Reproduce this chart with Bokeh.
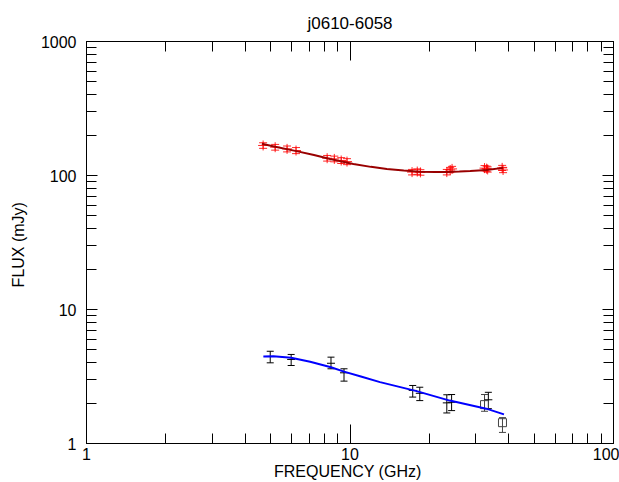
from bokeh.plotting import figure
from bokeh.models import ColumnDataSource, Whisker, TeeHead, LogAxis, FixedTicker, BasicTickFormatter, Range1d
from bokeh.embed import file_html
from bokeh.resources import INLINE

title = "j0610-6058"
x_label = "FREQUENCY  (GHz)"
y_label = "FLUX  (mJy)"
x_ticks = [1, 10, 100]
y_ticks = [1, 10, 100, 1000]

# bright source (red points, dark red fit)
red_freq = [4.68, 5.20, 5.77, 6.24, 8.19, 8.72, 9.26, 9.74, 17.2, 18.0, 18.5,
            23.3, 24.0, 24.4, 32.4, 33.0, 33.3, 37.8, 38.1]
red_flux = [167.5, 162.6, 158, 153.6, 134.6, 133, 129.4, 127, 106, 107, 105.5,
            106, 110, 112, 113.5, 112.5, 111, 114, 110]
red_err = [8, 8, 8, 8, 6.5, 6.5, 6.5, 6.5, 5, 5, 5, 5, 5, 5, 5, 5, 5, 5, 5]

red_fit_freq = [4.63, 5.2, 6.26, 7.3, 8.41, 10.3, 12.0, 13.8, 16.0, 18.4, 21.0,
                23.3, 26.0, 28.6, 33.0, 38.1]
red_fit_flux = [172.5, 164, 152, 142, 133, 122, 116, 112, 109, 106.6, 106,
                106, 107, 108, 110, 114]

# faint source (black points, blue fit)
blue_freq = [4.98, 5.98, 8.47, 9.49, 17.3, 18.4, 23.3, 24.3, 33.5]
blue_flux = [4.46, 4.24, 3.97, 3.37, 2.49, 2.37, 2.01, 2.03, 2.12]
blue_hi = [4.88, 4.62, 4.41, 3.61, 2.71, 2.63, 2.31, 2.32, 2.41]
blue_lo = [4.0, 3.82, 3.61, 2.92, 2.22, 2.09, 1.69, 1.76, 1.82]

sq_freq = [32.4, 37.9]
sq_flux = [1.95, 1.43]
sq_hi = [2.32, 1.56]
sq_lo = [1.74, 1.21]

blue_fit_freq = [4.69, 5.12, 5.98, 7.06, 8.47, 9.49, 11.0, 13.0, 17.9, 23.9, 32.9, 38.4]
blue_fit_flux = [4.46, 4.48, 4.36, 4.07, 3.71, 3.44, 3.16, 2.87, 2.46, 2.09, 1.82, 1.65]

FONT = "Liberation Sans"

p = figure(width=619, height=482, x_axis_type="log", y_axis_type="log",
           x_range=Range1d(1, 100), y_range=Range1d(1, 1000),
           output_backend="svg", toolbar_location=None, title=title,
           min_border_left=86, min_border_right=6, min_border_top=41, min_border_bottom=39)
p.background_fill_color = "white"
p.border_fill_color = "white"
p.outline_line_color = "black"
p.xgrid.visible = False
p.ygrid.visible = False

p.title.align = "center"
p.title.text_font = FONT
p.title.text_font_style = "normal"
p.title.text_font_size = "17px"
p.title.text_color = "black"
p.title.standoff = 18

x_minor = [m * 10 ** e for e in range(0, 2) for m in range(2, 10)]
y_minor = [m * 10 ** e for e in range(0, 3) for m in range(2, 10)]


def style_axis(ax, ticks, minor, major_in, minor_in, labels=True):
    ax.ticker = FixedTicker(ticks=ticks, minor_ticks=minor)
    ax.formatter = BasicTickFormatter()
    ax.axis_line_color = "black"
    ax.major_tick_line_color = "black"
    ax.minor_tick_line_color = "black"
    ax.major_tick_in = major_in
    ax.major_tick_out = 0
    ax.minor_tick_in = minor_in
    ax.minor_tick_out = 0
    ax.major_label_text_font = FONT
    ax.major_label_text_font_size = "16px"
    ax.major_label_text_color = "black"
    if labels:
        ax.axis_label_text_font = FONT
        ax.axis_label_text_font_size = "16px"
        ax.axis_label_text_font_style = "normal"
        ax.axis_label_text_color = "black"
    else:
        ax.major_label_overrides = {t: "" for t in ticks}
        ax.major_label_standoff = 0


xa = p.xaxis[0]
style_axis(xa, x_ticks, x_minor, 19, 10)
xa.axis_label = x_label
xa.major_label_standoff = 4
xa.axis_label_standoff = 0

ya = p.yaxis[0]
style_axis(ya, y_ticks, y_minor, 11, 10)
ya.axis_label = y_label
ya.major_label_standoff = 10
ya.axis_label_standoff = 11

top = LogAxis()
style_axis(top, x_ticks, x_minor, 19, 10, labels=False)
p.add_layout(top, "above")
right = LogAxis()
style_axis(right, y_ticks, y_minor, 11, 10, labels=False)
p.add_layout(right, "right")

# red source
red_src = ColumnDataSource(dict(x=red_freq, y=red_flux,
                                lo=[f - e for f, e in zip(red_flux, red_err)],
                                hi=[f + e for f, e in zip(red_flux, red_err)]))
p.add_layout(Whisker(source=red_src, base="x", upper="hi", lower="lo", dimension="height",
                     line_color="red", line_width=1, line_alpha=0.85,
                     upper_head=TeeHead(size=8, line_color="red", line_alpha=0.85),
                     lower_head=TeeHead(size=8, line_color="red", line_alpha=0.85)))
p.scatter("x", "y", source=red_src, marker="cross", size=10, line_color="red",
          line_alpha=0.85, line_width=1)
p.line(red_fit_freq, red_fit_flux, line_color="#990000", line_width=2)

# faint source
blue_src = ColumnDataSource(dict(x=blue_freq, y=blue_flux, lo=blue_lo, hi=blue_hi))
p.add_layout(Whisker(source=blue_src, base="x", upper="hi", lower="lo", dimension="height",
                     line_color="black", line_width=1,
                     upper_head=TeeHead(size=7, line_color="black"),
                     lower_head=TeeHead(size=7, line_color="black")))
p.scatter("x", "y", source=blue_src, marker="dash", size=8, line_color="black", line_width=1)

sq_src = ColumnDataSource(dict(x=sq_freq, y=sq_flux, lo=sq_lo, hi=sq_hi))
p.add_layout(Whisker(source=sq_src, base="x", upper="hi", lower="lo", dimension="height",
                     line_color="#444444", line_width=1,
                     upper_head=TeeHead(size=7, line_color="#444444"),
                     lower_head=TeeHead(size=7, line_color="#444444")))
p.scatter("x", "y", source=sq_src, marker="square", size=8, fill_color=None,
          line_color="#444444", line_width=1)

p.line(blue_fit_freq, blue_fit_flux, line_color="blue", line_width=2)

open("out.html", "w").write(file_html(p, INLINE))
